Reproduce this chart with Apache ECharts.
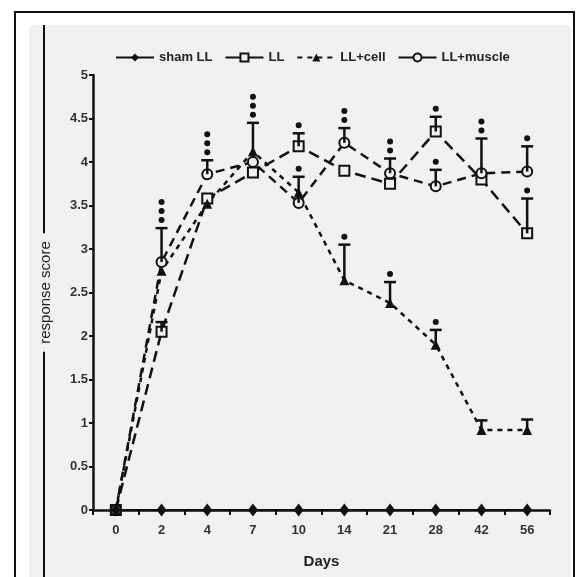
<!DOCTYPE html>
<html>
<head>
<meta charset="utf-8">
<script src="https://cdn.jsdelivr.net/npm/echarts@6/dist/echarts.min.js"></script>
<style>
html,body{margin:0;padding:0;background:#fff;}
#chart{width:582px;height:577px;}
</style>
</head>
<body>
<div id="chart"></div>
<script>
// ---- data ----
var days = ['0','2','4','7','10','14','21','28','42','56'];
var yTicks = [0,0.5,1,1.5,2,2.5,3,3.5,4,4.5,5];
var shamLL   = [0, 0, 0, 0, 0, 0, 0, 0, 0, 0];
var LL       = [0, 2.05, 3.58, 3.88, 4.18, 3.9, 3.75, 4.35, 3.8, 3.18];
var LLcell   = [0, 2.75, 3.52, 4.12, 3.65, 2.64, 2.38, 1.9, 0.92, 0.92];
var LLmuscle = [0, 2.85, 3.86, 4.0, 3.53, 4.22, 3.87, 3.72, 3.87, 3.89];
// upper error-bar ends (null = none drawn)
var LLerr       = [null, 2.16, null, null, 4.33, null, null, 4.52, null, 3.58];
var LLcellErr   = [null, null, null, 4.45, null, 3.05, 2.62, 2.07, 1.03, 1.04];
var LLmuscleErr = [null, 3.24, 4.02, null, 3.83, 4.39, 4.04, 3.91, 4.27, 4.18];
// number of significance dots above each error bar
var LLdots       = [0,0,0,0,1,0,0,1,0,1];
var LLcellDots   = [0,0,0,3,0,1,1,1,0,0];
var LLmuscleDots = [0,3,3,0,1,2,2,1,2,1];

var BG = '#f1f1f1';
var chart = echarts.init(document.getElementById('chart'));

function errData(vals, errs, dots){
  var out = [];
  for (var i=0;i<vals.length;i++){
    if (errs[i] != null) out.push([i, vals[i], errs[i], dots[i]]);
  }
  return out;
}
function renderErr(params, api){
  var i = api.value(0);
  var p0 = api.coord([i, api.value(1)]);
  var p1 = api.coord([i, api.value(2)]);
  var n = api.value(3);
  var st = {stroke:'#111', lineWidth:2.5};
  var kids = [
    {type:'line', shape:{x1:p0[0],y1:p0[1],x2:p1[0],y2:p1[1]}, style:st},
    {type:'line', shape:{x1:p1[0]-6,y1:p1[1],x2:p1[0]+6,y2:p1[1]}, style:st}
  ];
  for (var k=0;k<n;k++){
    kids.push({type:'circle', shape:{cx:p1[0], cy:p1[1]-8-9*k, r:3}, style:{fill:'#111'}});
  }
  return {type:'group', children:kids};
}
function errSeries(vals, errs, dots){
  return {type:'custom', renderItem:renderErr, data:errData(vals, errs, dots),
          z:5, silent:true, encode:{x:0, y:[1,2]}, legendHoverLink:false};
}

var option = {
  animation:false,
  backgroundColor:'#ffffff',
  textStyle:{fontFamily:'Liberation Sans, Arial, sans-serif'},
  graphic:[
    {type:'rect', z:-10, shape:{x:15,y:12,width:559,height:580}, style:{fill:'#fff', stroke:'#111', lineWidth:2}},
    {type:'rect', z:-9, shape:{x:29,y:25,width:542,height:560}, style:{fill:BG}},
    {type:'line', z:-8, shape:{x1:44,y1:25,x2:44,y2:577}, style:{stroke:'#111', lineWidth:2}}
  ],
  legend:{
    left:110, top:46, itemWidth:38, itemHeight:10, itemGap:12,
    textStyle:{fontWeight:'bold', fontSize:13, color:'#222'},
    data:[
      {name:'sham LL'},
      {name:'LL', lineStyle:{type:'solid'}},
      {name:'LL+cell'},
      {name:'LL+muscle', lineStyle:{type:'solid'}}
    ]
  },
  grid:{left:93, right:32, top:75, bottom:67, containLabel:false},
  xAxis:{
    type:'category', data:days, boundaryGap:true,
    name:'Days', nameLocation:'middle', nameGap:44,
    nameTextStyle:{fontWeight:'bold', fontSize:15, color:'#222'},
    axisLine:{lineStyle:{color:'#111', width:2.5}},
    axisTick:{show:true, alignWithLabel:false, length:5, lineStyle:{color:'#111', width:2}},
    axisLabel:{fontWeight:'bold', fontSize:13, color:'#333', margin:14}
  },
  yAxis:{
    type:'value', min:0, max:5, interval:0.5,
    name:'response score', nameLocation:'middle', nameGap:40,
    nameTextStyle:{fontSize:15, color:'#222', backgroundColor:BG, padding:[0,8,0,8]},
    splitLine:{show:false},
    axisLine:{show:true, lineStyle:{color:'#111', width:2.5}},
    axisTick:{show:true, length:4, lineStyle:{color:'#111', width:2}},
    axisLabel:{fontWeight:'bold', fontSize:13, color:'#333', margin:5,
      formatter:function(v){ return yTicks.indexOf(v) >= 0 ? String(v) : ''; }}
  },
  series:[
    {name:'sham LL', type:'line', data:shamLL, symbol:'diamond', symbolSize:[10,13], z:4,
     lineStyle:{color:'#111', width:2}, itemStyle:{color:'#111'}},
    {name:'LL', type:'line', data:LL, symbol:'rect', symbolSize:10, z:3,
     lineStyle:{color:'#111', width:2.5, type:[11,6]},
     itemStyle:{color:BG, borderColor:'#111', borderWidth:2}},
    {name:'LL+cell', type:'line', data:LLcell, symbol:'triangle', symbolSize:10, z:3,
     lineStyle:{color:'#111', width:2.5, type:[5,5]},
     itemStyle:{color:'#111'}},
    {name:'LL+muscle', type:'line', data:LLmuscle, symbol:'circle', symbolSize:10, z:3,
     lineStyle:{color:'#111', width:2.5, type:[9,6]},
     itemStyle:{color:BG, borderColor:'#111', borderWidth:2}},
    errSeries(LL, LLerr, LLdots),
    errSeries(LLcell, LLcellErr, LLcellDots),
    errSeries(LLmuscle, LLmuscleErr, LLmuscleDots)
  ]
};
chart.setOption(option);
</script>
</body>
</html>
